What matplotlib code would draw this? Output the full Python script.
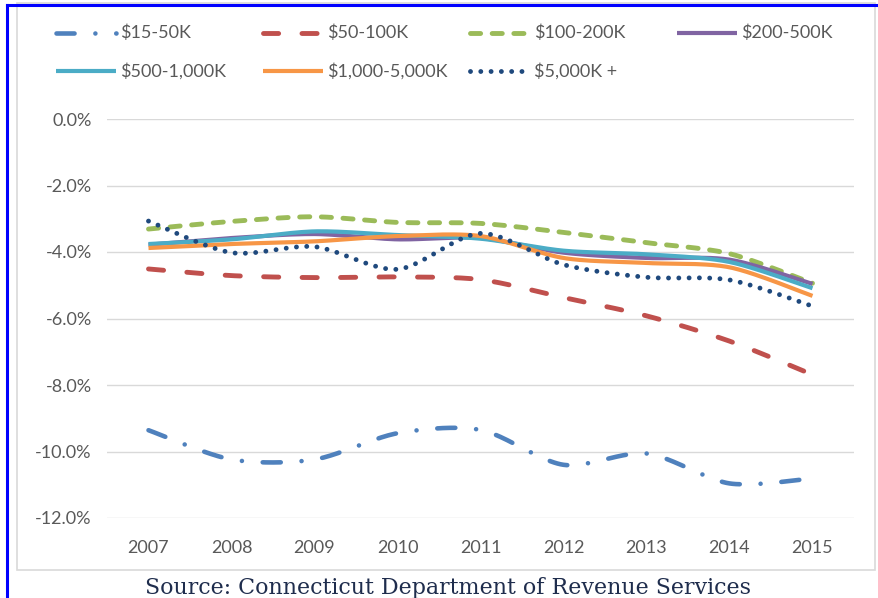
import numpy as np
import matplotlib
matplotlib.use("Agg")
import matplotlib.pyplot as plt
from matplotlib.lines import Line2D
from matplotlib.patches import Rectangle

plt.rcParams['lines.scale_dashes'] = False

years = ["2007", "2008", "2009", "2010", "2011", "2012", "2013", "2014", "2015"]
labels = ["$15-50K", "$50-100K", "$100-200K", "$200-500K",
          "$500-1,000K", "$1,000-5,000K", "$5,000K +"]

v_15_50 = [-9.36, -10.24, -10.24, -9.45, -9.35, -10.40, -10.06, -10.96, -10.81]
v_50_100 = [-4.51, -4.71, -4.77, -4.75, -4.83, -5.37, -5.92, -6.68, -7.69]
v_100_200 = [-3.31, -3.08, -2.94, -3.11, -3.14, -3.41, -3.72, -4.05, -4.94]
v_200_500 = [-3.78, -3.58, -3.46, -3.62, -3.58, -4.02, -4.18, -4.23, -4.96]
v_500_1000 = [-3.76, -3.62, -3.38, -3.49, -3.60, -3.96, -4.07, -4.30, -5.09]
v_1000_5000 = [-3.88, -3.76, -3.68, -3.52, -3.52, -4.18, -4.33, -4.46, -5.32]
v_5000 = [-3.07, -4.02, -3.84, -4.52, -3.44, -4.38, -4.76, -4.84, -5.63]

series = [v_15_50, v_50_100, v_100_200, v_200_500, v_500_1000, v_1000_5000, v_5000]

styles = [
    dict(color="#4F81BD", lw=3.3, dashes=(13, 15, 0.01, 15), cap="round"),
    dict(color="#C0504D", lw=3.5, dashes=(10.9, 16.8), cap="round"),
    dict(color="#9BBB59", lw=3.5, dashes=(7.3, 8.3), cap="round"),
    dict(color="#8064A2", lw=3.0, dashes=None, cap="butt"),
    dict(color="#4BACC6", lw=3.0, dashes=None, cap="butt"),
    dict(color="#F79646", lw=3.0, dashes=None, cap="butt"),
    dict(color="#1F497D", lw=3.5, dashes=(0.01, 7.4), cap="round"),
]

yticks = [0, -2, -4, -6, -8, -10, -12]


def smooth(xs, ys, n=24, k=1 / 7):
    xs = np.asarray(xs, float)
    ys = np.asarray(ys, float)
    px = np.concatenate([[xs[0]], xs, [xs[-1]]])
    py = np.concatenate([[ys[0]], ys, [ys[-1]]])
    outx, outy = [], []
    t = np.linspace(0, 1, n, endpoint=False)
    for i in range(1, len(px) - 2):
        p0 = np.array([px[i], py[i]])
        p3 = np.array([px[i + 1], py[i + 1]])
        c1 = p0 + (np.array([px[i + 1], py[i + 1]]) - np.array([px[i - 1], py[i - 1]])) * k
        c2 = p3 - (np.array([px[i + 2], py[i + 2]]) - np.array([px[i], py[i]])) * k
        b = ((1 - t) ** 3)[:, None] * p0 + (3 * (1 - t) ** 2 * t)[:, None] * c1 + \
            (3 * (1 - t) * t ** 2)[:, None] * c2 + (t ** 3)[:, None] * p3
        outx.extend(b[:, 0]); outy.extend(b[:, 1])
    outx.append(xs[-1]); outy.append(ys[-1])
    return np.array(outx), np.array(outy)


W, H = 879, 598
fig = plt.figure(figsize=(W / 100, H / 100), dpi=100)
fig.patch.set_facecolor("white")

ax = fig.add_axes([107 / W, (H - 518) / H, (854 - 107) / W, (518 - 119) / H])
ax.set_facecolor("white")
for s in ax.spines.values():
    s.set_visible(False)

x = np.arange(len(years))
for vals, st in zip(series, styles):
    sx, sy = smooth(x, vals)
    line, = ax.plot(sx, sy, color=st["color"], lw=st["lw"],
                    solid_capstyle="butt", dash_capstyle=st["cap"],
                    solid_joinstyle="round")
    if st["dashes"] is not None:
        line.set_dashes(st["dashes"])

ax.set_xlim(-0.5, len(years) - 0.5)
ax.set_ylim(-12, 0)
ax.set_yticks(yticks)
ax.set_yticklabels([f"{v:.1f}%" for v in yticks])
ax.set_xticks(x)
ax.set_xticklabels(years)
ax.yaxis.grid(True, color="#D9D9D9", lw=1.0)
ax.set_axisbelow(True)
fontfam = ["Lato", "DejaVu Sans"]
ax.tick_params(axis="both", length=0, colors="#595959", labelsize=13)
ax.tick_params(axis="y", pad=11)
ax.tick_params(axis="x", pad=16)
for lab in ax.get_xticklabels() + ax.get_yticklabels():
    lab.set_family(fontfam)
    lab.set_color("#595959")

# legend (manual, Excel-like equal columns)
colx = [56, 263, 470, 677]
rowy = [33, 71]
hlen = 60
for i, (lab, st) in enumerate(zip(labels, styles)):
    r, c = divmod(i, 4)
    x0 = colx[c]
    y0 = rowy[r]
    ln = Line2D([x0 / W, (x0 + hlen) / W], [1 - y0 / H, 1 - y0 / H],
                transform=fig.transFigure, color=st["color"], lw=st["lw"],
                solid_capstyle="butt", dash_capstyle=st["cap"])
    if st["dashes"] is not None:
        ln.set_dashes(st["dashes"])
    fig.add_artist(ln)
    fig.text((x0 + hlen + 4) / W, 1 - y0 / H, lab, ha="left", va="center",
             fontsize=13, color="#595959", family=fontfam)

# chart frame and outer border
fig.add_artist(Rectangle((17 / W, (H - 570) / H), (875 - 17) / W, (570 - 3) / H,
                         transform=fig.transFigure, fill=False,
                         edgecolor="#D9D9D9", lw=1.2))
fig.add_artist(Line2D([7 / W, 7 / W], [0, 1 - 5 / H], transform=fig.transFigure,
                      color="#0000FF", lw=2.2))
fig.add_artist(Line2D([7 / W, 1], [1 - 5 / H, 1 - 5 / H], transform=fig.transFigure,
                      color="#0000FF", lw=2.2))

fig.text(448 / W, (H - 594) / H, "Source: Connecticut Department of Revenue Services",
         ha="center", va="baseline", fontsize=15.9, color="#1F2D4D",
         family=["DejaVu Serif", "Liberation Serif"])

fig.savefig("out.png", dpi=100)
